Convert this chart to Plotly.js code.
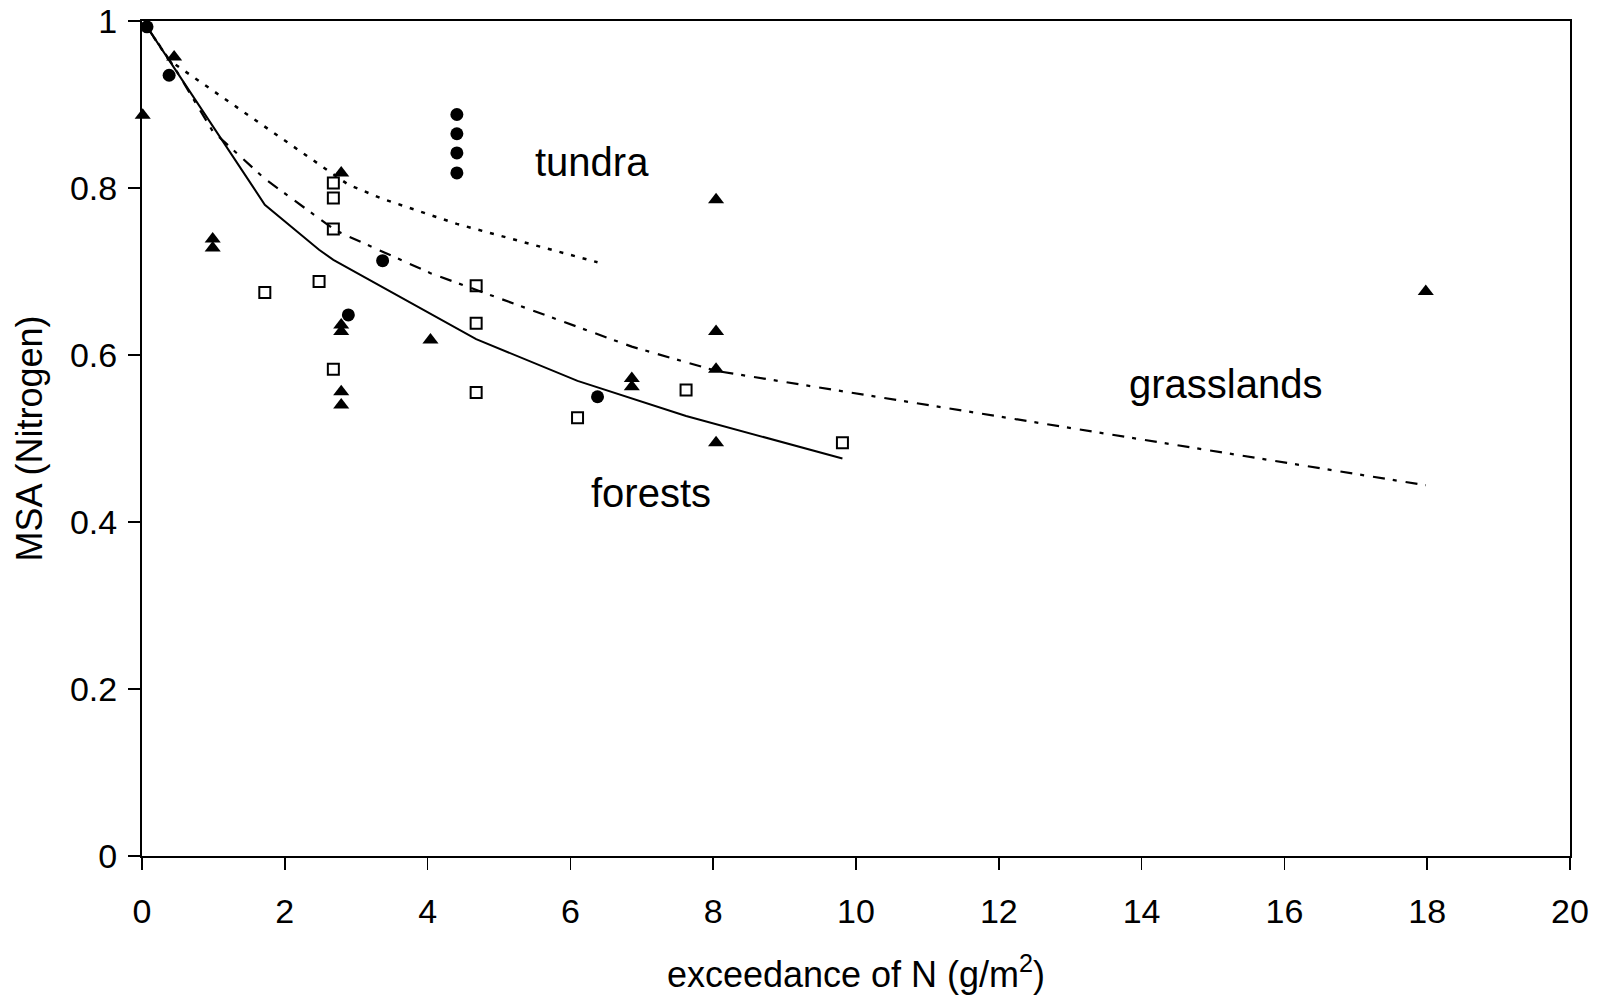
<!DOCTYPE html>
<html>
<head>
<meta charset="utf-8">
<script src="https://cdn.plot.ly/plotly-3.0.1.min.js"></script>
<style>
  html, body { margin: 0; padding: 0; background: #ffffff; }
  #chart { width: 1603px; height: 996px; }
</style>
</head>
<body>
<div id="chart"></div>
<script>
// ---- observed data: tundra (filled circles) ----
const tundraX = [0.07, 0.38, 4.41, 4.41, 4.41, 4.41, 3.37, 2.89, 6.38];
const tundraY = [0.993, 0.935, 0.888, 0.865, 0.842, 0.818, 0.713, 0.648, 0.550];

// ---- observed data: grasslands (filled triangles) ----
const grassX = [0.01, 0.45, 0.99, 0.99, 2.79, 2.79, 2.79, 2.79, 2.79, 4.04, 6.86, 6.86, 8.04, 8.04, 8.04, 8.04, 17.98];
const grassY = [0.887, 0.957, 0.739, 0.728, 0.818, 0.636, 0.628, 0.556, 0.540, 0.618, 0.572, 0.562, 0.786, 0.628, 0.583, 0.495, 0.676];

// ---- observed data: forests (open squares) ----
const forestX = [1.72, 2.48, 2.68, 2.68, 2.68, 2.68, 4.68, 4.68, 4.68, 6.10, 7.62, 9.81];
const forestY = [0.675, 0.688, 0.806, 0.788, 0.751, 0.583, 0.683, 0.638, 0.555, 0.525, 0.558, 0.495];

// ---- fitted curves ----
const forestFitX = [0.07, 1.72, 2.48, 2.68, 4.68, 6.10, 7.62, 9.81];
const forestFitY = [0.993, 0.780, 0.726, 0.714, 0.619, 0.569, 0.527, 0.476];

const grassFitX = [0.07, 0.45, 0.99, 1.72, 2.68, 2.79, 4.04, 6.86, 8.04, 17.98];
const grassFitY = [0.993, 0.945, 0.868, 0.811, 0.751, 0.746, 0.698, 0.610, 0.581, 0.444];

const tundraFitX = [0.07, 0.38, 2.89, 3.37, 4.41, 6.38];
const tundraFitY = [0.993, 0.953, 0.804, 0.787, 0.757, 0.711];

// ---- text labels and ticks ----
const labelText = ["tundra", "grasslands", "forests"];
const labelX = [6.30, 15.17, 7.13];
const labelY = [0.831, 0.565, 0.435];
const xTicks = [0, 2, 4, 6, 8, 10, 12, 14, 16, 18, 20];
const yTicks = [0, 0.2, 0.4, 0.6, 0.8, 1];

const FONT = "Liberation Sans, Arial, Helvetica, sans-serif";

const traces = [
  { x: forestFitX, y: forestFitY, mode: "lines", type: "scatter",
    line: { color: "#000", width: 2 }, hoverinfo: "skip" },
  { x: grassFitX, y: grassFitY, mode: "lines", type: "scatter",
    line: { color: "#000", width: 2.2, dash: "12px,8px,4px,9px" }, hoverinfo: "skip" },
  { x: tundraFitX, y: tundraFitY, mode: "lines", type: "scatter",
    line: { color: "#000", width: 2.5, dash: "4px,8px" }, hoverinfo: "skip" },
  { x: forestX, y: forestY, mode: "markers", type: "scatter", cliponaxis: false,
    marker: { symbol: "square-open", size: 11, color: "#000", line: { width: 2, color: "#000" } } },
  { x: grassX, y: grassY, mode: "markers", type: "scatter", cliponaxis: false,
    marker: { symbol: "triangle-up", size: 14, color: "#000" } },
  { x: tundraX, y: tundraY, mode: "markers", type: "scatter", cliponaxis: false,
    marker: { symbol: "circle", size: 13, color: "#000" } }
];

const annotations = labelText.map((t, i) => ({
  x: labelX[i], y: labelY[i], xref: "x", yref: "y", text: t, showarrow: false,
  xanchor: "center", yanchor: "middle", font: { family: FONT, size: 40, color: "#000" }
}));

const layout = {
  width: 1603, height: 996,
  margin: { l: 142, r: 33, t: 21, b: 140, pad: 0 },
  paper_bgcolor: "#fff", plot_bgcolor: "#fff",
  showlegend: false,
  font: { family: FONT, color: "#000" },
  xaxis: {
    range: [0, 20], tickvals: xTicks, ticks: "outside", ticklen: 12, tickwidth: 1.5, tickcolor: "#000",
    showline: true, linewidth: 2, linecolor: "#000", mirror: true,
    showgrid: false, zeroline: false, tickfont: { family: FONT, size: 34, color: "#000" },
    ticklabelstandoff: 12,
    title: { text: "exceedance of N (g/m<sup>2</sup>)", font: { family: FONT, size: 36, color: "#000" }, standoff: 33 }
  },
  yaxis: {
    range: [0, 1], tickvals: yTicks, ticks: "outside", ticklen: 12, tickwidth: 1.5, tickcolor: "#000",
    showline: true, linewidth: 2, linecolor: "#000", mirror: true,
    showgrid: false, zeroline: false, tickfont: { family: FONT, size: 34, color: "#000" },
    ticklabelstandoff: 4,
    title: { text: "MSA (Nitrogen)", font: { family: FONT, size: 36, color: "#000" }, standoff: 16 }
  },
  annotations: annotations
};

Plotly.newPlot("chart", traces, layout, { displayModeBar: false, staticPlot: true });
</script>
</body>
</html>
